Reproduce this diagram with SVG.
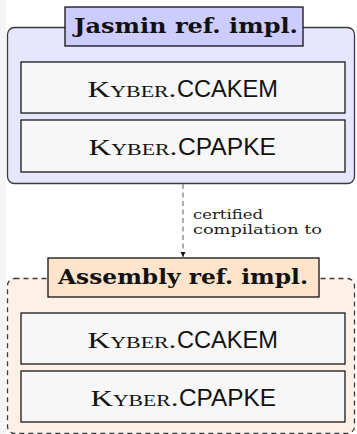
<svg xmlns="http://www.w3.org/2000/svg" width="357" height="434" viewBox="0 0 357 434">
  <defs>
    <marker id="arr" markerWidth="8" markerHeight="8" refX="5" refY="2.5" orient="auto" markerUnits="userSpaceOnUse">
      <path d="M0,0 L5,2.5 L0,5 Z" fill="#111"/>
    </marker>
    <style>
      .outerJ { fill: #e6e6ff; stroke: #3a3a3a; stroke-width: 1.3; }
      .outerA { fill: #fff0e5; stroke: #3a3a3a; stroke-width: 1.3; stroke-dasharray: 5 4; }
      .titleJ { fill: #ccccff; stroke: #111; stroke-width: 1.3; }
      .titleA { fill: #ffe4cc; stroke: #111; stroke-width: 1.3; }
      .inner { fill: #f7f7f7; stroke: #1a1a1a; stroke-width: 1.3; }
      .ttl { font-family: "DejaVu Serif", "Liberation Serif", serif; font-weight: bold; font-size: 21px; fill: #111; }
      .ser { font-family: "Liberation Serif", serif; font-size: 23px; font-variant: small-caps; fill: #111; }
      .san { font-family: "Liberation Sans", sans-serif; font-size: 23px; fill: #111; }
      .lbl { font-family: "DejaVu Serif", "Liberation Serif", serif; font-size: 13.5px; fill: #222; }
      .conn { stroke: #777; stroke-width: 1.2; stroke-dasharray: 5 3.5; fill: none; }
    </style>
  </defs>
  <rect x="0" y="0" width="357" height="434" fill="#ffffff"/>
  <rect x="0" y="0" width="6" height="434" fill="#f5f5f5"/>

  <g id="jasmin">
    <rect class="outerJ" x="7.5" y="27.5" width="347" height="156" rx="7"/>
    <rect class="titleJ" x="65" y="7" width="238" height="39"/>
    <text class="ttl" x="74" y="33" textLength="224" lengthAdjust="spacingAndGlyphs">Jasmin ref. impl.</text>
  </g>
  <g id="jasmin-ccakem">
    <rect class="inner" x="21" y="62" width="324" height="51"/>
    <text class="ser" x="87.5" y="96.5" textLength="89" lengthAdjust="spacingAndGlyphs">Kyber.</text>
    <text class="san" x="177" y="96.5" textLength="101" lengthAdjust="spacingAndGlyphs">CCAKEM</text>
  </g>
  <g id="jasmin-cpapke">
    <rect class="inner" x="21" y="120" width="324" height="52"/>
    <text class="ser" x="88.5" y="154.5" textLength="89" lengthAdjust="spacingAndGlyphs">Kyber.</text>
    <text class="san" x="178" y="154.5" textLength="98" lengthAdjust="spacingAndGlyphs">CPAPKE</text>
  </g>

  <g id="assembly">
    <rect class="outerA" x="7.5" y="278.5" width="347" height="155" rx="7"/>
    <rect class="titleA" x="48" y="258" width="271" height="39"/>
    <text class="ttl" x="58" y="284" textLength="250" lengthAdjust="spacingAndGlyphs">Assembly ref. impl.</text>
  </g>
  <g id="assembly-ccakem">
    <rect class="inner" x="21" y="313" width="324" height="51"/>
    <text class="ser" x="87.5" y="347.5" textLength="89" lengthAdjust="spacingAndGlyphs">Kyber.</text>
    <text class="san" x="177" y="347.5" textLength="101" lengthAdjust="spacingAndGlyphs">CCAKEM</text>
  </g>
  <g id="assembly-cpapke">
    <rect class="inner" x="21" y="371" width="324" height="51"/>
    <text class="ser" x="90.5" y="405.5" textLength="88" lengthAdjust="spacingAndGlyphs">Kyber.</text>
    <text class="san" x="179" y="405.5" textLength="97" lengthAdjust="spacingAndGlyphs">CPAPKE</text>
  </g>

  <g id="connectors">
    <line class="conn" x1="183" y1="184" x2="183" y2="257" marker-end="url(#arr)"/>
    <text class="lbl" x="193" y="219" textLength="70" lengthAdjust="spacingAndGlyphs">certified</text>
    <text class="lbl" x="193" y="234" textLength="129" lengthAdjust="spacingAndGlyphs">compilation to</text>
  </g>
</svg>
